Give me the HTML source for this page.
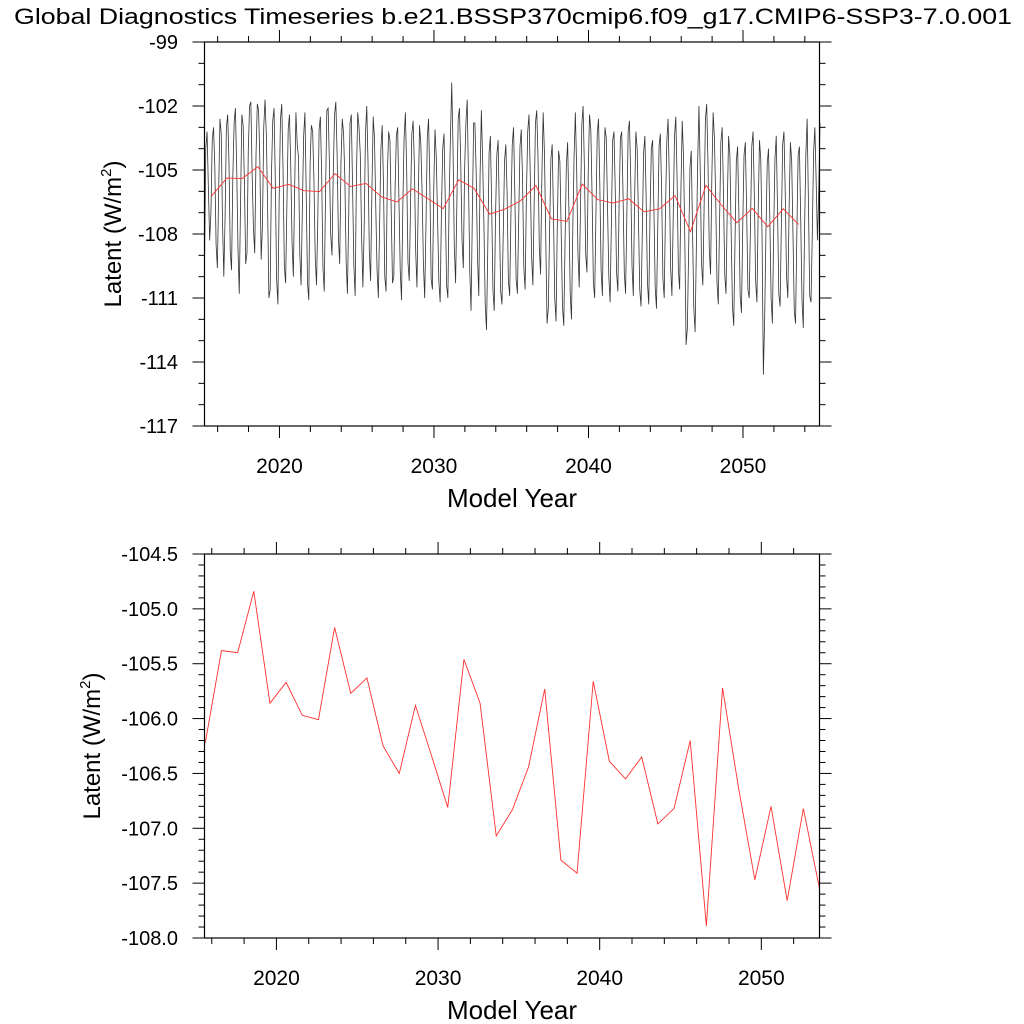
<!DOCTYPE html>
<html><head><meta charset="utf-8"><style>
html,body{margin:0;padding:0;background:#fff}
svg{display:block;font-family:"Liberation Sans",Arial,sans-serif}
</style></head><body>
<svg id="chart" width="1024" height="1024" viewBox="0 0 1024 1024" xmlns="http://www.w3.org/2000/svg">
<text x="513" y="24" text-anchor="middle" font-size="22" textLength="998" lengthAdjust="spacingAndGlyphs">Global Diagnostics Timeseries b.e21.BSSP370cmip6.f09_g17.CMIP6-SSP3-7.0.001</text>
<g id="top"></g>
<g id="bot"></g>
</svg>
<script>
const annualYears=[];for(let i=0;i<39;i++)annualYears.push(2015.6+i);
const annualValues=[-106.22,-105.38,-105.40,-104.84,-105.86,-105.67,-105.97,-106.01,-105.17,-105.77,-105.63,-106.25,-106.50,-105.88,-106.34,-106.81,-105.46,-105.86,-107.07,-106.83,-106.44,-105.73,-107.29,-107.41,-105.66,-106.39,-106.55,-106.35,-106.96,-106.82,-106.20,-107.89,-105.72,-106.64,-107.47,-106.80,-107.66,-106.82,-107.55];
const monthlyValues=[
-109.5,-104.0,-103.2,-105.8,-108.3,-107.0,-103.6,-103.0,-104.8,-108.5,-109.6,-106.0,
-102.6,-103.3,-107.5,-110.0,-107.2,-103.0,-102.4,-104.6,-108.8,-109.7,-105.3,-102.8,
-102.1,-104.9,-108.7,-110.8,-106.5,-102.4,-102.9,-105.6,-109.4,-108.9,-104.1,-102.0,
-101.8,-105.2,-107.7,-108.9,-104.3,-101.9,-102.2,-104.6,-109.2,-107.6,-103.0,-101.7,
-103.3,-106.7,-111.0,-110.6,-105.2,-102.7,-102.1,-105.5,-110.1,-111.3,-106.3,-102.6,
-101.9,-105.0,-109.5,-110.3,-106.6,-103.1,-102.4,-104.9,-108.4,-110.0,-105.9,-102.3,
-103.8,-104.4,-108.9,-110.4,-106.8,-103.4,-102.3,-106.1,-110.3,-111.1,-104.7,-102.9,
-103.2,-105.5,-109.1,-110.4,-107.2,-103.1,-102.5,-105.3,-109.6,-110.7,-106.1,-102.2,
-102.1,-104.7,-108.0,-109.0,-105.1,-102.4,-101.8,-104.3,-108.2,-109.4,-104.6,-102.6,
-103.3,-105.4,-109.3,-110.8,-107.1,-102.8,-102.4,-105.8,-109.5,-110.9,-105.2,-102.3,
-103.0,-104.3,-108.1,-110.5,-107.7,-103.3,-102.0,-104.7,-108.8,-110.2,-106.0,-102.5,
-103.5,-106.7,-109.7,-111.0,-107.5,-104.0,-102.9,-105.7,-110.0,-110.7,-105.2,-103.2,
-103.6,-106.9,-110.3,-110.0,-105.9,-103.4,-103.0,-106.4,-109.7,-111.1,-106.8,-103.5,
-102.3,-105.0,-109.3,-110.2,-106.6,-103.3,-102.7,-104.8,-108.8,-110.5,-106.4,-102.9,
-103.8,-106.1,-109.4,-111.0,-107.6,-103.5,-102.6,-105.7,-110.1,-110.6,-106.0,-103.1,
-104.4,-107.3,-110.2,-111.2,-107.0,-104.0,-103.3,-106.5,-110.4,-111.0,-106.3,-103.4,
-100.9,-104.0,-108.6,-110.3,-106.5,-102.6,-102.1,-104.7,-108.3,-109.6,-105.0,-102.8,
-101.7,-105.4,-109.7,-111.6,-107.1,-102.8,-102.8,-105.2,-109.1,-110.9,-105.3,-102.2,
-104.5,-107.6,-111.3,-112.5,-108.6,-104.2,-103.4,-106.6,-110.6,-111.6,-107.2,-104.3,
-103.6,-107.1,-110.7,-111.3,-108.0,-104.6,-103.8,-106.1,-110.2,-110.9,-107.0,-103.8,
-103.0,-106.1,-110.1,-110.8,-107.3,-103.9,-103.1,-105.5,-109.6,-110.6,-106.2,-103.2,
-102.4,-105.3,-109.0,-110.4,-106.6,-102.8,-102.2,-104.4,-108.6,-109.9,-105.3,-102.3,
-104.2,-108.1,-112.2,-111.5,-107.8,-104.5,-103.8,-107.1,-111.0,-112.1,-107.5,-104.1,
-104.6,-107.9,-111.4,-112.3,-108.4,-104.8,-103.7,-106.9,-110.8,-112.0,-107.8,-104.4,
-102.3,-104.9,-108.9,-110.5,-106.7,-102.9,-102.0,-104.8,-108.9,-109.8,-105.1,-102.4,
-103.1,-106.2,-110.3,-111.0,-107.0,-103.3,-102.6,-105.7,-109.7,-110.9,-106.3,-103.0,
-103.5,-106.8,-110.0,-111.2,-107.4,-103.6,-103.2,-106.0,-109.8,-110.7,-106.5,-103.5,
-103.2,-106.0,-109.8,-110.8,-107.1,-103.2,-102.7,-105.4,-109.5,-110.9,-106.4,-103.2,
-104.0,-107.3,-110.6,-111.4,-107.9,-104.2,-103.4,-106.4,-110.3,-111.3,-107.1,-104.0,
-103.6,-106.8,-110.5,-111.5,-107.7,-103.9,-103.3,-106.0,-110.1,-111.0,-106.9,-103.7,
-102.6,-105.5,-109.6,-110.9,-107.2,-103.4,-102.5,-105.4,-109.7,-110.6,-105.9,-102.7,
-104.4,-108.3,-113.2,-112.4,-108.6,-104.9,-104.1,-107.8,-111.5,-112.6,-108.5,-104.6,
-102.0,-105.1,-109.4,-110.4,-106.7,-102.6,-101.9,-104.7,-108.7,-109.9,-105.3,-102.3,
-103.5,-106.4,-110.3,-111.3,-107.4,-103.7,-103.0,-106.0,-109.9,-110.8,-106.6,-103.4,
-104.3,-107.9,-111.4,-112.3,-108.3,-104.6,-103.9,-107.0,-110.9,-111.7,-107.6,-104.3,
-103.7,-106.8,-110.6,-111.0,-107.6,-103.9,-103.2,-106.2,-110.2,-111.2,-106.8,-103.6,
-104.5,-108.2,-114.6,-112.0,-108.0,-104.7,-104.0,-107.2,-111.0,-112.2,-107.9,-104.5,
-103.4,-106.8,-110.8,-111.4,-107.5,-103.8,-103.2,-106.1,-110.0,-111.0,-106.8,-103.7,
-104.6,-108.0,-111.6,-112.2,-108.0,-104.3,-103.9,-107.3,-111.1,-112.4,-107.8,-104.3,
-102.6,-106.5,-110.9,-111.2,-108.0,-104.2,-103.0,-105.5,-108.3,-106.0,-102.8];
const monthlyStart=2015.15;
const xTickLabels=["2020","2030","2040","2050"];
const topYTickLabels=["-99","-102","-105","-108","-111","-114","-117"];
const botYTickLabels=["-104.5","-105.0","-105.5","-106.0","-106.5","-107.0","-107.5","-108.0"];

const NS="http://www.w3.org/2000/svg";
function mk(parent,tag,attrs){const e=document.createElementNS(NS,tag);for(const k in attrs)e.setAttribute(k,attrs[k]);parent.appendChild(e);return e;}

function panel(g,opt){
  const L=204.5,R=819.5,T=opt.top,B=opt.top+384;
  const sx=v=>L+(v-opt.x0)/(opt.x1-opt.x0)*(R-L);
  const sy=v=>T+(opt.y0-v)/(opt.y0-opt.y1)*(B-T);
  if(opt.monthly){
    let d="";opt.monthly.forEach((v,i)=>{d+=(i?"L":"M")+sx(monthlyStart+i/12).toFixed(2)+","+sy(v).toFixed(2);});
    const p=mk(g,"path",{d:d,fill:"none",stroke:"#333","stroke-width":"0.8"});
    
    
  }
  let d2="";annualValues.forEach((v,i)=>{d2+=(i?"L":"M")+sx(annualYears[i]).toFixed(2)+","+sy(v).toFixed(2);});
  const r=mk(g,"path",{d:d2,fill:"none",stroke:"#ff3030","stroke-width":"0.9"});
  
  
  const f=mk(g,"rect",{x:L,y:T,width:R-L,height:B-T,fill:"none",stroke:"#000","stroke-width":"1.2"});
  
  
  const tk=mk(g,"g",{stroke:"#000","stroke-width":"1"});
  
  
  for(let yr=2016;yr<=2056;yr+=2){
    if(yr<opt.x0||yr>opt.x1)continue;
    const x=sx(yr),maj=yr%10===0,len=maj?12:6;
    mk(tk,"line",{x1:x,y1:B,x2:x,y2:B+len});
    mk(tk,"line",{x1:x,y1:T,x2:x,y2:T-len});
  }
  xTickLabels.forEach(s=>{
    const t=mk(g,"text",{x:sx(+s),y:B+47,"text-anchor":"middle","font-size":"21"});
    t.textContent=s;
    
    
  });
  for(let v=opt.y1;v<=opt.y0+1e-9;v+=opt.minor){
    const y=sy(v);const k=Math.round((v-opt.y1)/opt.minor);const maj=k%opt.per===0;const len=maj?12:6;
    mk(tk,"line",{x1:L-len,y1:y,x2:L,y2:y});
    mk(tk,"line",{x1:R,y1:y,x2:R+len,y2:y});
  }
  opt.labels.forEach((s,i)=>{
    const t=mk(g,"text",{x:178,y:sy(opt.y0-i*opt.major)+7,"text-anchor":"end","font-size":"20"});
    t.textContent=s;
    
    
  });
  const xt=mk(g,"text",{x:512,y:B+81,"text-anchor":"middle","font-size":"26"});
  xt.textContent="Model Year";
  
  
  const yc=(T+B)/2;
  const yt=mk(g,"text",{x:opt.ytx,y:yc,"text-anchor":"middle","font-size":"24",transform:`rotate(-90 ${opt.ytx} ${yc})`});
  yt.innerHTML='Latent (W/m<tspan font-size="15" dy="-10">2</tspan><tspan dy="10">)</tspan>';
  
  
}
panel(document.getElementById('top'),{top:42,x0:2015.15,x1:2054.95,y0:-99,y1:-117,major:3,minor:1,per:3,labels:topYTickLabels,monthly:monthlyValues,ytx:121});
panel(document.getElementById('bot'),{top:554,x0:2015.55,x1:2053.6,y0:-104.5,y1:-108,major:0.5,minor:0.1,per:5,labels:botYTickLabels,monthly:null,ytx:100});
</script>
</body></html>
